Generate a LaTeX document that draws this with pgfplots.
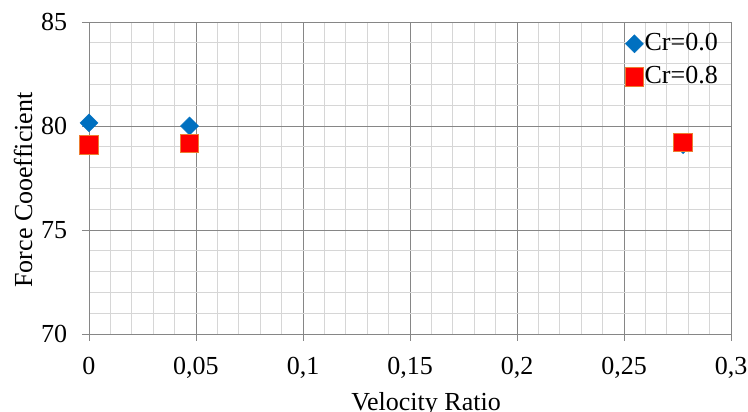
\documentclass[border=0pt]{standalone}
\usepackage{pgfplots}
\pgfplotsset{compat=1.18}
\usepackage{fontspec}
\setmainfont{Liberation Serif}
\definecolor{cblue}{RGB}{0,112,192}
\definecolor{cred}{RGB}{255,0,0}
\definecolor{corange}{RGB}{237,125,49}
\definecolor{majgray}{RGB}{134,134,134}
\definecolor{mingray}{RGB}{214,214,214}
\begin{document}
\fontsize{26}{31}\selectfont
\begin{tikzpicture}
\begin{axis}[
  scale only axis, width=642pt, height=312pt,
  xmin=0, xmax=0.3, ymin=70, ymax=85,
  xtick={0,0.05,0.1,0.15,0.2,0.25,0.3},
  xticklabels={0,{0,05},{0,1},{0,15},{0,2},{0,25},{0,3}},
  ytick={70,75,80,85},
  yticklabels={70,75,80,85},
  minor x tick num=4, minor y tick num=4,
  grid=both,
  major grid style={draw=majgray, line width=0.8pt},
  minor grid style={draw=mingray, line width=0.8pt},
  axis lines=left,
  axis line style={-, draw=majgray, line width=0.8pt},
  tick align=outside, major tick length=7pt, minor tick length=0pt,
  tick style={draw=majgray, line width=0.8pt},
  xticklabel style={yshift=-7pt},
  yticklabel style={xshift=-6pt},
  xlabel={Velocity Ratio},
  ylabel={Force Cooefficient},
  xlabel style={at={(axis description cs:0.5,0)}, anchor=north, inner sep=0pt, yshift=-58pt, xshift=16pt},
  ylabel style={at={(axis description cs:0,0.5)}, anchor=center, xshift=-12pt, yshift=66pt},
  legend style={at={(1,1)}, anchor=north east, xshift=-9pt, yshift=-8pt,
    draw=none, fill=none, row sep=10pt, nodes={inner sep=1pt}},
  legend cell align=left,
  legend image code/.code={\draw[#1] plot coordinates {(0pt,0pt)};},
]
\addplot[only marks, mark=square*, mark size=6.4pt,
  mark options={rotate=45, fill=cblue, draw=cblue}]
  coordinates {(0,80.15) (0.047,80.0) (0.2776,79.1)};
\addlegendentry{Cr=0.0}
\addplot[only marks, mark=square*, mark size=9.2pt,
  mark options={fill=cred, draw=corange, line width=0.8pt}]
  coordinates {(0,79.09) (0.047,79.17) (0.2776,79.2)};
\addlegendentry{Cr=0.8}
\end{axis}
\pgfresetboundingbox
\path[use as bounding box] (-89pt,-78pt) rectangle (659pt,334pt);
\end{tikzpicture}
\end{document}
